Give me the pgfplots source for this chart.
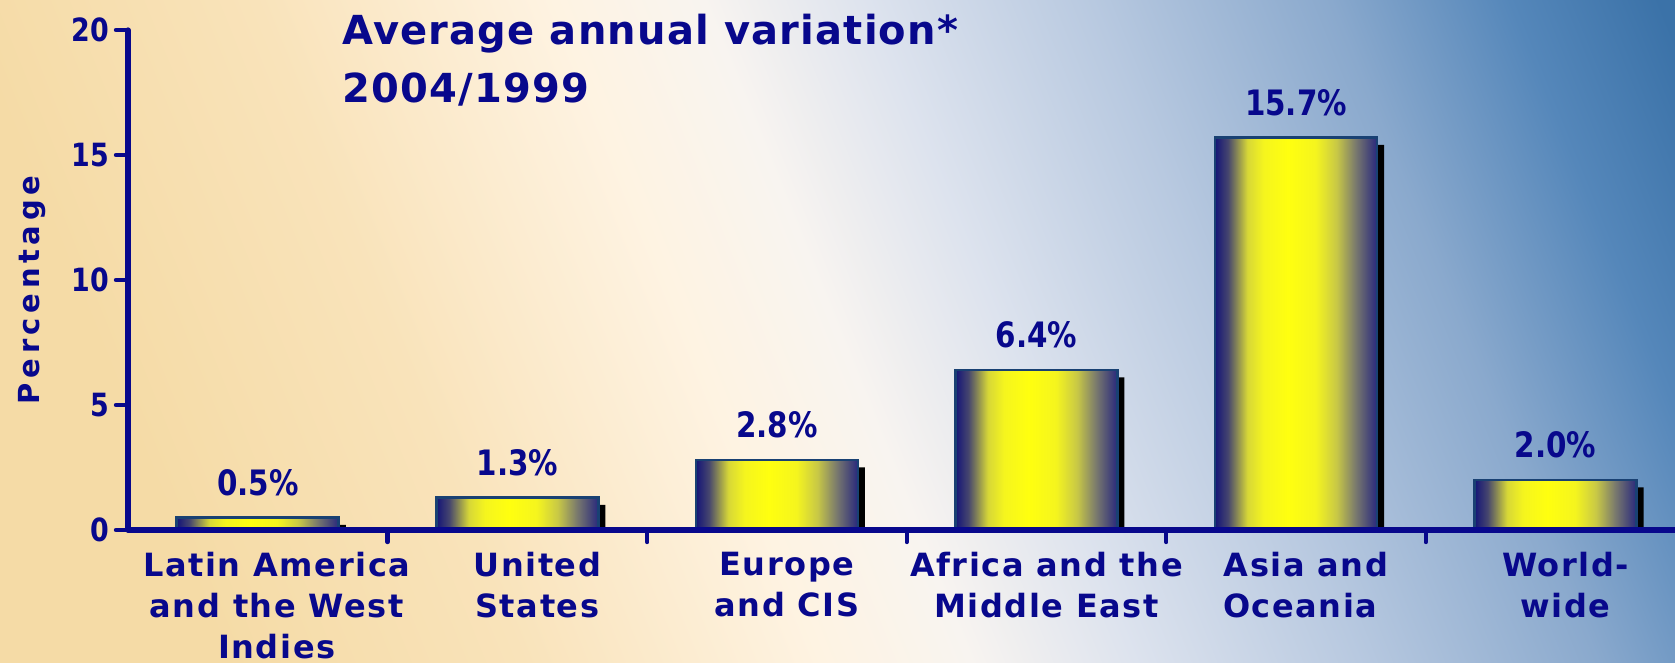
\documentclass[border=0pt]{standalone}
\usepackage{pgfplots}
\pgfplotsset{compat=1.18}
\usepackage{fontspec}
\setmainfont{DejaVu Sans}
\newfontfamily\titlefont[LetterSpace=3]{DejaVu Sans}
\newfontfamily\catfont[LetterSpace=5]{DejaVu Sans}
\newfontfamily\ylabfont[LetterSpace=16]{DejaVu Sans}
\newfontfamily\numfont[FakeStretch=0.84]{DejaVu Sans}
\definecolor{navy}{RGB}{8,8,140}
\definecolor{barborder}{RGB}{25,65,115}
\definecolor{b0}{RGB}{20,20,120}
\definecolor{b1}{RGB}{70,70,110}
\definecolor{b2}{RGB}{215,215,55}
\definecolor{b3}{RGB}{245,245,30}
\definecolor{b4}{RGB}{255,255,15}
\definecolor{b5}{RGB}{200,200,70}
\definecolor{b6}{RGB}{120,120,110}
\definecolor{b7}{RGB}{40,40,125}
\pgfdeclarehorizontalshading{barshade}{100bp}{color(0bp)=(b0); color(25bp)=(b0); color(29bp)=(b1); color(35bp)=(b2); color(40bp)=(b3); color(47.5bp)=(b4); color(56bp)=(b3); color(62.5bp)=(b5); color(68.5bp)=(b6); color(75bp)=(b7); color(100bp)=(b7)}
\definecolor{g0}{HTML}{F5DBA6}
\definecolor{g1}{HTML}{F9E3BA}
\definecolor{g2}{HTML}{FEF3E2}
\definecolor{g3}{HTML}{F8F4F0}
\definecolor{g4}{HTML}{DDE3EE}
\definecolor{g5}{HTML}{B8C9E0}
\definecolor{g6}{HTML}{8AA9CD}
\definecolor{g7}{HTML}{5587BA}
\definecolor{g8}{HTML}{3B72A8}
\pgfdeclarehorizontalshading{bgshade}{100bp}{color(0bp)=(g0); color(25bp)=(g0); color(35bp)=(g1); color(45bp)=(g2); color(50bp)=(g3); color(55.5bp)=(g4); color(63bp)=(g5); color(71bp)=(g6); color(77bp)=(g7); color(82bp)=(g8); color(100bp)=(g8)}
\pgfplotsset{
  mybar/.style={ybar, bar width=81pt, bar shift=0pt, draw=barborder, line width=1.3pt, shading=barshade,
    nodes near coords={\pgfmathprintnumber[fixed,fixed zerofill,precision=1,assume math mode=true]{\pgfplotspointmeta}\%},
    every node near coord/.style={anchor=base, yshift=11pt, font=\numfont\bfseries\fontsize{17.5}{17.5}\selectfont, text=navy}},
}
\begin{document}
\begin{tikzpicture}
\path[use as bounding box] (0pt,0pt) rectangle (837.5pt,331.5pt);
\shade[shading=bgshade, shading angle=22] (0pt,0pt) rectangle (837.5pt,331.5pt);
\begin{axis}[
  at={(64pt,66.5pt)}, anchor=south west,
  scale only axis, width=773.5pt, height=250pt,
  xmin=-0.5, xmax=5.46, ymin=0, ymax=20,
  axis x line=bottom, axis y line=left,
  axis line style={-, navy, line width=2.6pt, line cap=round},
  axis on top=true,
  tick align=outside,
  major tick length=6pt,
  tick style={navy, line width=2.2pt, line cap=round},
  ytick={0,5,10,15,20},
  yticklabel style={font=\numfont\bfseries\fontsize{16}{16}\selectfont, text=navy},
  /pgf/number format/assume math mode=true,
  xtick={0.5,1.5,2.5,3.5,4.5},
  xticklabels={,,,,},
  extra x ticks={0,1,2,3,4,5},
  extra x tick labels={{\hspace*{9pt}Latin America\\\hspace*{9pt}and the West\\\hspace*{9pt}Indies},{\hspace*{10pt}United\\\hspace*{10pt}States},{Europe\\and CIS},{Africa and the\\Middle East},{Asia and\\Oceania\hspace*{5.8pt}},{World-\\wide}},
  extra x tick style={major tick length=0pt, tick label style={font=\catfont\bfseries\fontsize{16}{20.6}\selectfont, text=navy, align=center, anchor=north, xshift=5pt, yshift=-7.5pt}},
  ylabel={Percentage},
  every axis y label/.style={at={(axis description cs:-0.062,0.48)}, rotate=90, anchor=center, font=\ylabfont\bfseries\fontsize{14.5}{14.5}\selectfont, text=navy},
]
\addplot[ybar, bar width=81pt, bar shift=3.5pt, fill=black, draw=none, forget plot]
  coordinates {(0,0.2) (1,1.0) (2,2.5) (3,6.1) (4,15.4) (5,1.7)};
\addplot[mybar] coordinates {(0,0.5)};
\addplot[mybar] coordinates {(1,1.3)};
\addplot[mybar] coordinates {(2,2.8)};
\addplot[mybar] coordinates {(3,6.4)};
\addplot[mybar] coordinates {(4,15.7)};
\addplot[mybar] coordinates {(5,2.0)};
\end{axis}
\node[anchor=base west, font=\titlefont\bfseries\fontsize{20}{20}\selectfont, text=navy, inner sep=0pt] at (171pt,309pt) {Average annual variation*};
\node[anchor=base west, font=\titlefont\bfseries\fontsize{20}{20}\selectfont, text=navy, inner sep=0pt] at (171pt,280pt) {2004/1999};
\end{tikzpicture}
\end{document}
